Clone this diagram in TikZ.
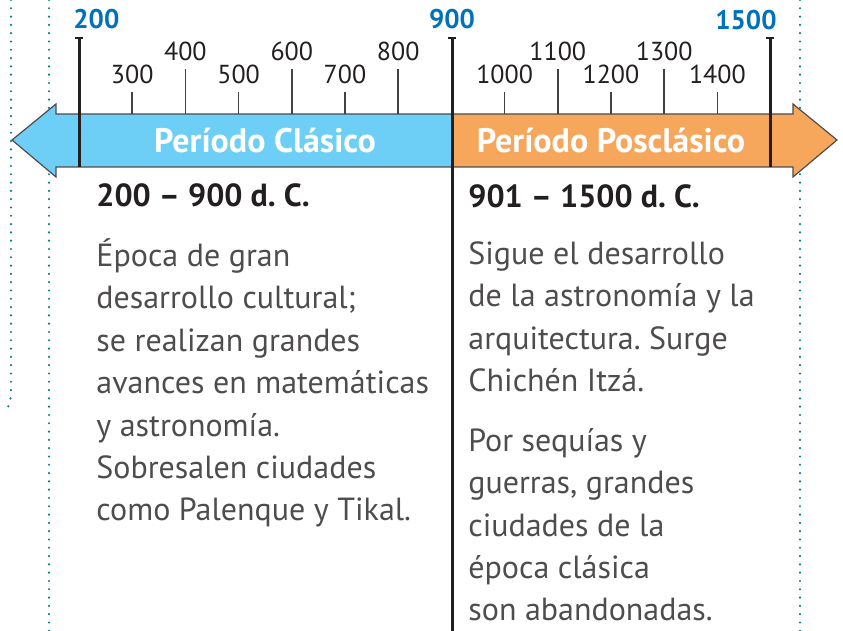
\documentclass[tikz,border=0pt]{standalone}
\usepackage{fontspec}
\setmainfont{PT Sans}
\usetikzlibrary{positioning}
\definecolor{clasico}{HTML}{6DCFF6}
\definecolor{posclasico}{HTML}{F7A75C}
\definecolor{azul}{HTML}{0072BC}
\definecolor{guia}{HTML}{00808C}
\definecolor{tinta}{HTML}{231F20}
\frenchspacing

\begin{document}
\begin{tikzpicture}[x=0.5pt, y=-0.5pt,
	every node/.style={inner sep=0pt, text=tinta},
	guia/.style={draw=guia, line width=1.2pt, line cap=round, dash pattern=on 0pt off 4.15pt},
	flecha/.style={draw=tinta!80, line width=0.6pt},
	marca/.style={tinta!85, line width=0.8pt},
	eje/.style={tinta, line width=1.5pt},
	anio/.style={font=\fontsize{13}{13}\selectfont, anchor=base},
	siglo/.style={font=\fontsize{13.5}{13.5}\selectfont\bfseries, text=azul},
	periodo/.style={font=\fontsize{17}{17}\selectfont\bfseries, text=white},
	fecha/.style={font=\fontsize{16}{16}\selectfont\bfseries, anchor=base west},
	texto/.style={font=\fontsize{16}{21.25}\selectfont, align=left, anchor=base west, text=tinta!80}]
	\useasboundingbox (0,0) rectangle (843,631);
	% guias punteadas
	\draw[guia] (11,0) -- (11,392) .. controls (11,402) and (8,408) .. (5,413);
	\draw[guia] (49,0) -- (49,631);
	\draw[guia] (800,0) -- (800,631);
	% flechas de los periodos
	\draw[flecha, fill=clasico] (452,114) -- (56,114) -- (56,104) -- (12,140) -- (56,177) -- (56,167) -- (452,167) -- cycle;
	\draw[flecha, fill=posclasico] (452,114) -- (793,114) -- (793,104) -- (837,140) -- (793,177) -- (793,167) -- (452,167) -- cycle;
	\node[periodo] (clasico) at (265,141) {Período Clásico};
	\node[periodo] (posclasico) at (611,140) {Período Posclásico};
	% marcas de siglos
	\foreach \a/\t in {300/92,400/69,500/92,600/69,700/92,800/69,1000/92,1100/69,1200/92,1300/69,1400/92} {
		\draw[marca] ({79+(\a-200)*0.532},\t) -- ({79+(\a-200)*0.532},114);
		\node[anio] (a\a) at ({79+(\a-200)*0.532},{\t-8}) {\a};
	}
	\foreach \x/\b in {79/167,452/631,770/167} {
		\draw[eje] (\x,38) -- (\x,\b);
		\draw[tinta, line width=0.8pt] (\x-4,38) -- (\x+4,38);
	}
	\node[siglo, anchor=base west] (s200) at (73,29) {200};
	\node[siglo, anchor=base] (s900) at (452,29) {900};
	\node[siglo, anchor=base east] (s1500) at (777,30) {1500};
	% textos (la base es la de la ultima linea)
	\node[fecha] (f1) at (96,207) {200 -- 900 d. C.};
	\node[fecha] (f2) at (468,208) {901 -- 1500 d. C.};
	\node[texto] (t1) at (96,521) {Época de gran\\desarrollo cultural;\\se realizan grandes\\avances en matemáticas\\y astronomía.\\Sobresalen ciudades\\como Palenque y Tikal.};
	\node[texto] (t2) at (468,392) {Sigue el desarrollo\\de la astronomía y la\\arquitectura. Surge\\Chichén Itzá.};
	\node[texto] (t3) at (468,621) {Por sequías y\\guerras, grandes\\ciudades de la\\época clásica\\son abandonadas.};
\end{tikzpicture}
\end{document}
